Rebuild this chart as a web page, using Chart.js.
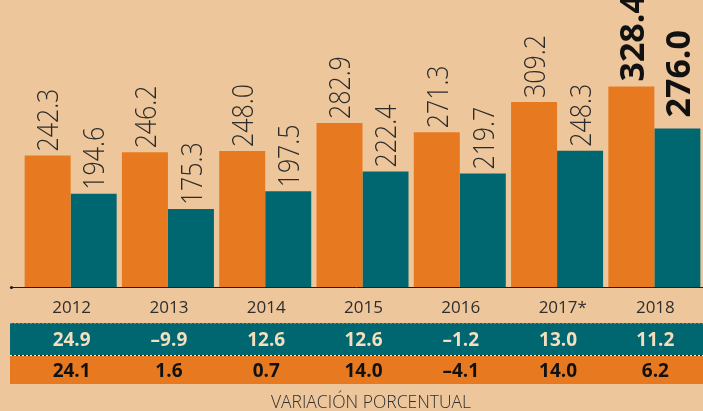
<!DOCTYPE html>
<html lang="es">
<head>
<meta charset="utf-8">
<script src="https://cdn.jsdelivr.net/npm/chart.js@4.4.0/dist/chart.umd.min.js"></script>
<style>
  html, body { margin: 0; padding: 0; background: #eec69b; }
  #wrap { position: relative; width: 703px; height: 411px; overflow: hidden; }
</style>
</head>
<body>
<div id="wrap"><canvas id="chart" width="703" height="411"></canvas></div>
<script>
// data
const years = ['2012', '2013', '2014', '2015', '2016', '2017*', '2018'];
const orangeValues = [242.3, 246.2, 248.0, 282.9, 271.3, 309.2, 328.4];
const tealValues = [194.6, 175.3, 197.5, 222.4, 219.7, 248.3, 276.0];
const tealChange = [24.9, -9.9, 12.6, 12.6, -1.2, 13.0, 11.2];
const orangeChange = [24.1, 1.6, 0.7, 14.0, -4.1, 14.0, 6.2];

const ORANGE = '#e77a20';
const TEAL = '#006670';

function fmt(v) {
    return v.toFixed(1).replace('-', '\u2013');
}

// rotated value labels above each bar, the last year in bold
const barLabels = {
    id: 'barLabels',
    afterDatasetsDraw(chart) {
        const ctx = chart.ctx;
        chart.data.datasets.forEach((ds, di) => {
            chart.getDatasetMeta(di).data.forEach((bar, i) => {
                const last = i === years.length - 1;
                const size = last ? 34 : 30;
                const gap = last ? (di === 0 ? 5 : 11) : 4;
                ctx.save();
                ctx.translate(bar.x, bar.y - gap);
                ctx.rotate(-Math.PI / 2);
                if (!last) ctx.scale(0.83, 1);
                ctx.font = (last ? 'bold ' : '300 ') + size + 'px "Open Sans", sans-serif';
                ctx.fillStyle = last ? '#111' : '#2b2b2b';
                ctx.textAlign = 'left';
                ctx.textBaseline = 'alphabetic';
                ctx.fillText(fmt(ds.data[i]), 0, size * 0.36);
                ctx.restore();
            });
        });
    }
};

// axis line, year labels and the percentage table underneath
const tableBelow = {
    id: 'tableBelow',
    afterDraw(chart) {
        const ctx = chart.ctx;
        const xs = chart.scales.x;
        const base = chart.chartArea.bottom;
        ctx.save();

        ctx.strokeStyle = '#1e1e1e';
        ctx.lineWidth = 1;
        ctx.beginPath();
        ctx.moveTo(10, base + 0.5);
        ctx.lineTo(703, base + 0.5);
        ctx.stroke();
        ctx.fillStyle = '#1e1e1e';
        ctx.beginPath();
        ctx.arc(11.5, base + 0.5, 1.6, 0, Math.PI * 2);
        ctx.fill();

        ctx.font = '17px "Open Sans", sans-serif';
        ctx.fillStyle = '#2e2e2e';
        ctx.textAlign = 'left';
        ctx.textBaseline = 'alphabetic';
        years.forEach((y, i) => {
            const core = y.replace('*', '');
            const w = ctx.measureText(core).width;
            ctx.fillText(y, xs.getPixelForValue(i) + 1 - w / 2, base + 26);
        });

        // table rows
        ctx.fillStyle = TEAL;
        ctx.fillRect(10, 323, 693, 32);
        ctx.fillStyle = ORANGE;
        ctx.fillRect(10, 355, 693, 29);

        ctx.setLineDash([2, 2]);
        ctx.strokeStyle = '#8c7a66';
        ctx.beginPath();
        ctx.moveTo(10, 323.5);
        ctx.lineTo(703, 323.5);
        ctx.stroke();
        ctx.strokeStyle = '#f5f0e8';
        ctx.beginPath();
        ctx.moveTo(10, 355.5);
        ctx.lineTo(703, 355.5);
        ctx.stroke();
        ctx.lineDashOffset = 2;
        ctx.strokeStyle = '#1e2a2c';
        ctx.beginPath();
        ctx.moveTo(10, 355.5);
        ctx.lineTo(703, 355.5);
        ctx.stroke();
        ctx.setLineDash([]);

        ctx.font = 'bold 19px "Open Sans", sans-serif';
        ctx.textAlign = 'center';
        tealChange.forEach((v, i) => {
            ctx.fillStyle = '#f4debe';
            ctx.fillText(fmt(v), xs.getPixelForValue(i) + 1, 346);
        });
        orangeChange.forEach((v, i) => {
            ctx.fillStyle = '#111';
            ctx.fillText(fmt(v), xs.getPixelForValue(i) + 1, 377);
        });

        ctx.font = '300 17.5px "Open Sans", sans-serif';
        ctx.fillStyle = '#2e2e2e';
        ctx.fillText('VARIACIÓN PORCENTUAL', 371, 408);
        ctx.restore();
    }
};

const ctx = document.getElementById('chart').getContext('2d');
new Chart(ctx, {
    type: 'bar',
    data: {
        labels: years,
        datasets: [
            { data: orangeValues, backgroundColor: ORANGE },
            { data: tealValues, backgroundColor: TEAL }
        ]
    },
    options: {
        responsive: false,
        animation: false,
        events: [],
        layout: { padding: { left: 22, right: 0, top: 10, bottom: 124 } },
        datasets: {
            bar: { categoryPercentage: 0.946, barPercentage: 1.0 }
        },
        scales: {
            x: { display: false },
            y: { display: false, min: 78, max: 424 }
        },
        plugins: {
            legend: { display: false },
            tooltip: { enabled: false }
        }
    },
    plugins: [barLabels, tableBelow]
});
</script>
</body>
</html>
